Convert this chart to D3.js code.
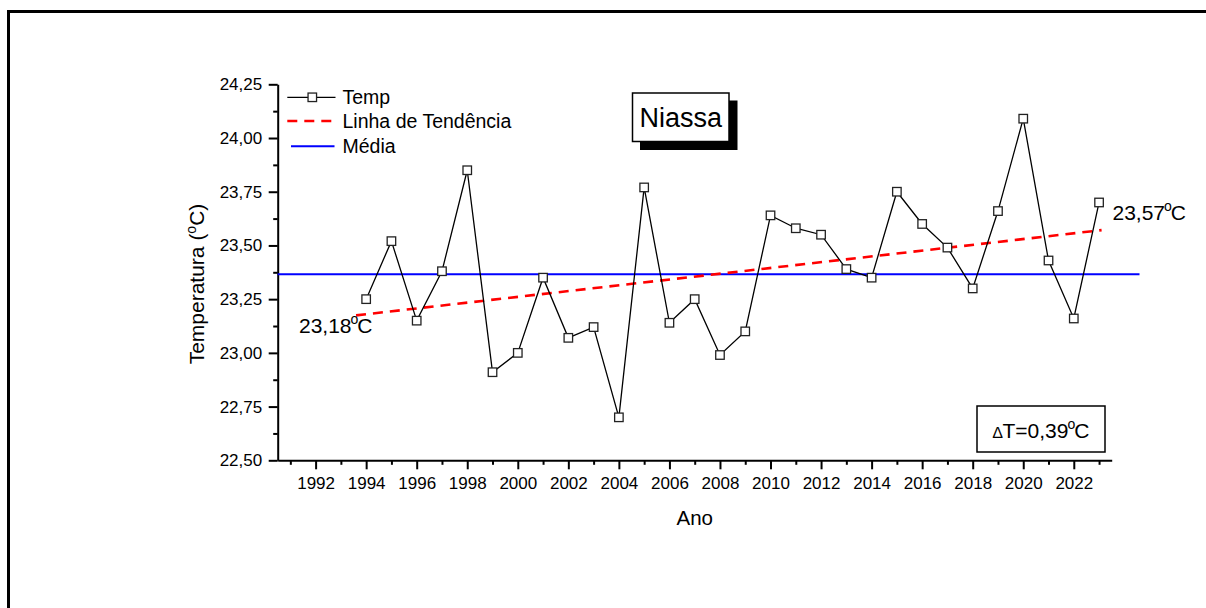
<!DOCTYPE html>
<html>
<head>
<meta charset="utf-8">
<script src="https://cdn.jsdelivr.net/npm/d3@7"></script>
<style>
  html, body { margin: 0; padding: 0; background: #fff; }
  svg { display: block; font-family: Arial, "Liberation Sans", sans-serif; }
</style>
</head>
<body>
<svg id="chart" width="1206" height="608"></svg>
<script>
// Annual mean temperature, Niassa
const years = [1994, 1995, 1996, 1997, 1998, 1999, 2000, 2001, 2002, 2003,
               2004, 2005, 2006, 2007, 2008, 2009, 2010, 2011, 2012, 2013,
               2014, 2015, 2016, 2017, 2018, 2019, 2020, 2021, 2022, 2023];
const temps = [23.25, 23.52, 23.15, 23.38, 23.85, 22.91, 23.00, 23.35, 23.07, 23.12,
               22.70, 23.77, 23.14, 23.25, 22.99, 23.10, 23.64, 23.58, 23.55, 23.39,
               23.35, 23.75, 23.60, 23.49, 23.30, 23.66, 24.09, 23.43, 23.16, 23.70];

// Trend line: value at first and last year (as labelled)
const trendYears = [1994, 2023];
const trendValues = [23.18, 23.57];
const trendSpan = [1993.6, 2023.1];

// Mean level of the series
const meanTemp = 23.366;
const meanSpan = [1990.5, 2024.6];

const deltaT = "0,39";

const xMajorTicks = d3.range(1992, 2023, 2);
const xMinorTicks = d3.range(1991, 2024, 2);
const yMajorTicks = [22.5, 22.75, 23.0, 23.25, 23.5, 23.75, 24.0, 24.25];
const yMinorTicks = [22.625, 22.875, 23.125, 23.375, 23.625, 23.875, 24.125];

const legendLabels = ["Temp", "Linha de Tendência", "Média"];

const svg = d3.select("#chart");

const x = d3.scaleLinear().domain([1990.5, 2023.5]).range([277.7, 1111.7]);
const y = d3.scaleLinear().domain([22.5, 24.25]).range([460.3, 84.3]);

const comma = d => d.toFixed(2).replace(".", ",");

// outer frame
svg.append("rect")
  .attr("x", 8.5).attr("y", 11.5)
  .attr("width", 1230).attr("height", 640)
  .attr("fill", "none").attr("stroke", "#000").attr("stroke-width", 3);

// axes
function styleAxis(g) {
  g.selectAll("path").attr("stroke", "#000").attr("stroke-width", 2);
  g.selectAll("line").attr("stroke", "#000").attr("stroke-width", 2);
  g.selectAll("text").attr("fill", "#000").attr("font-size", "17px")
    .attr("font-family", "Arial, 'Liberation Sans', sans-serif");
}

svg.append("g")
  .attr("transform", `translate(0,${y(22.5)})`)
  .call(d3.axisBottom(x).tickValues(xMinorTicks).tickSize(4.5).tickFormat("").tickSizeOuter(0))
  .call(styleAxis)
  .select("path").remove();

svg.append("g")
  .attr("transform", `translate(${x(1990.5)},0)`)
  .call(d3.axisLeft(y).tickValues(yMinorTicks).tickSize(4.5).tickFormat("").tickSizeOuter(0))
  .call(styleAxis)
  .select("path").remove();

svg.append("g")
  .attr("transform", `translate(0,${y(22.5)})`)
  .call(d3.axisBottom(x).tickValues(xMajorTicks).tickSize(9).tickPadding(8)
        .tickFormat(d3.format("d")).tickSizeOuter(0))
  .call(styleAxis);

svg.append("g")
  .attr("transform", `translate(${x(1990.5)},0)`)
  .call(d3.axisLeft(y).tickValues(yMajorTicks).tickSize(9).tickPadding(6.5)
        .tickFormat(comma).tickSizeOuter(0))
  .call(styleAxis);

// axis titles
svg.append("text")
  .attr("x", (x.range()[0] + x.range()[1]) / 2).attr("y", 525)
  .attr("text-anchor", "middle").attr("font-size", "20.5px").text("Ano");

const yTitle = svg.append("text")
  .attr("transform", "translate(204,284) rotate(-90)")
  .attr("text-anchor", "middle").attr("font-size", "21px");
yTitle.append("tspan").text("Temperatura (");
yTitle.append("tspan").attr("font-size", "14px").attr("dy", "-8").text("o");
yTitle.append("tspan").attr("dy", "8").text("C)");

// mean line
svg.append("line")
  .attr("x1", x(meanSpan[0])).attr("x2", x(meanSpan[1]))
  .attr("y1", y(meanTemp)).attr("y2", y(meanTemp))
  .attr("stroke", "#0000ff").attr("stroke-width", 2);

// trend line (linear through labelled end values)
const slope = (trendValues[1] - trendValues[0]) / (trendYears[1] - trendYears[0]);
const trendAt = yr => trendValues[0] + slope * (yr - trendYears[0]);
svg.append("line")
  .attr("x1", x(trendSpan[0])).attr("y1", y(trendAt(trendSpan[0])))
  .attr("x2", x(trendSpan[1])).attr("y2", y(trendAt(trendSpan[1])))
  .attr("stroke", "#ff0000").attr("stroke-width", 2.6)
  .attr("stroke-dasharray", "10,7");

// temperature series
const series = years.map((yr, i) => ({ yr, t: temps[i] }));
svg.append("path")
  .datum(series)
  .attr("fill", "none").attr("stroke", "#000").attr("stroke-width", 1.3)
  .attr("d", d3.line().x(d => x(d.yr)).y(d => y(d.t)));

const ms = 8.5;
svg.append("g").selectAll("rect")
  .data(series).join("rect")
  .attr("x", d => x(d.yr) - ms / 2).attr("y", d => y(d.t) - ms / 2)
  .attr("width", ms).attr("height", ms)
  .attr("fill", "#fff").attr("stroke", "#222").attr("stroke-width", 1.3);

// end labels of the trend
function degLabel(px, py, value) {
  const t = svg.append("text").attr("x", px).attr("y", py).attr("font-size", "21px");
  t.append("tspan").text(value);
  t.append("tspan").attr("font-size", "14px").attr("dy", "-9").attr("dx", "-1").text("o");
  t.append("tspan").attr("dy", "9").attr("dx", "-1").text("C");
}
degLabel(299, 333, comma(trendValues[0]));
degLabel(1112.5, 220, comma(trendValues[1]));

// legend
const lg = svg.append("g");
const lx0 = 287.3, lx1 = 335.5, tx = 342.5;
const rows = [97.3, 121, 146.3];
lg.append("line").attr("x1", lx0).attr("x2", lx1).attr("y1", rows[0]).attr("y2", rows[0])
  .attr("stroke", "#000").attr("stroke-width", 1.3);
lg.append("rect").attr("x", 312.3 - ms / 2).attr("y", rows[0] - ms / 2)
  .attr("width", ms).attr("height", ms)
  .attr("fill", "#fff").attr("stroke", "#222").attr("stroke-width", 1.3);
lg.append("line").attr("x1", lx0).attr("x2", lx1 + 1).attr("y1", rows[1]).attr("y2", rows[1])
  .attr("stroke", "#ff0000").attr("stroke-width", 2.6).attr("stroke-dasharray", "10,7");
lg.append("line").attr("x1", 291).attr("x2", 334.5).attr("y1", rows[2]).attr("y2", rows[2])
  .attr("stroke", "#0000ff").attr("stroke-width", 2);
lg.selectAll("text.leg").data(legendLabels).join("text")
  .attr("class", "leg")
  .attr("x", tx).attr("y", (d, i) => rows[i] + 7)
  .attr("font-size", "19.5px").text(d => d);

// title box with drop shadow
svg.append("rect").attr("x", 640).attr("y", 100.5).attr("width", 97.5).attr("height", 49.5)
  .attr("fill", "#000");
svg.append("rect").attr("x", 632.5).attr("y", 93).attr("width", 96.5).attr("height", 48.5)
  .attr("fill", "#fff").attr("stroke", "#000").attr("stroke-width", 1.5);
svg.append("text").attr("x", 680.8).attr("y", 126.5).attr("text-anchor", "middle")
  .attr("font-size", "27px").text("Niassa");

// delta-T box
svg.append("rect").attr("x", 977).attr("y", 406).attr("width", 128).attr("height", 46)
  .attr("fill", "#fff").attr("stroke", "#000").attr("stroke-width", 1.5);
const dt = svg.append("text").attr("x", 1041).attr("y", 437.5).attr("text-anchor", "middle")
  .attr("font-size", "21px");
dt.append("tspan").attr("font-size", "16px").text("\u2206");
dt.append("tspan").text("T=" + deltaT);
dt.append("tspan").attr("font-size", "14px").attr("dy", "-9").attr("dx", "-1").text("o");
dt.append("tspan").attr("dy", "9").attr("dx", "-1").text("C");
</script>
</body>
</html>
